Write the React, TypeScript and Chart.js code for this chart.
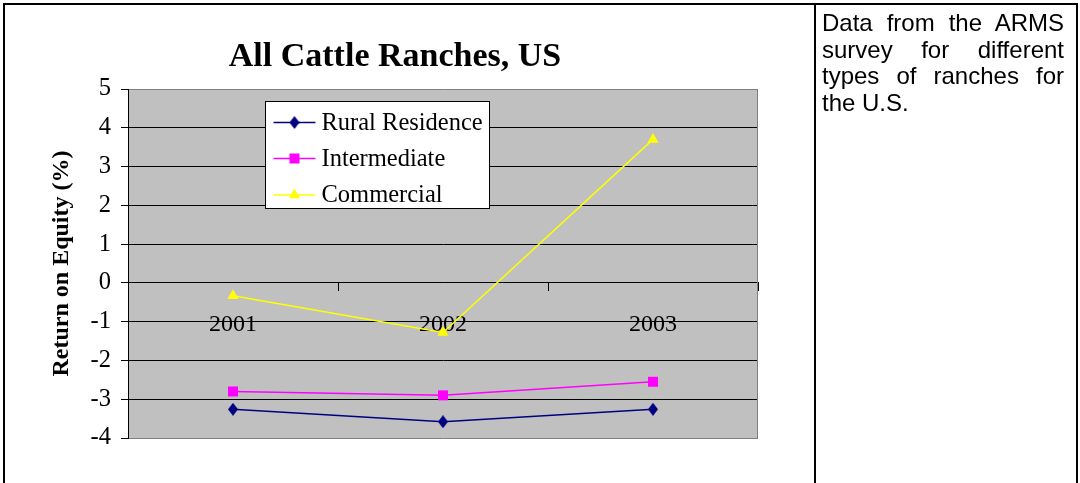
import React, { useEffect, useRef } from 'react';
import { Chart, registerables } from 'chart.js';

Chart.register(...registerables);

const chartTitle = 'All Cattle Ranches, US';
const yAxisTitle = 'Return on Equity (%)';
const years = ['2001', '2002', '2003'];
const seriesNames = ['Rural Residence', 'Intermediate', 'Commercial'];
const ruralResidence = [-3.26, -3.58, -3.26];
const intermediate = [-2.8, -2.9, -2.55];
const commercial = [-0.33, -1.28, 3.7];
const yMin = -4;
const yMax = 5;
const noteText = 'Data from the ARMS survey for different types of ranches for the U.S.';

const SERIF = '"Liberation Serif", "Times New Roman", Times, serif';
const SANS = '"Liberation Sans", Arial, Helvetica, sans-serif';
const colors = ['#000080', '#FF00FF', '#FFFF00'];

function makeDiamond(color: string, w: number, h: number) {
  const c = document.createElement('canvas');
  c.width = w;
  c.height = h;
  const g = c.getContext('2d')!;
  g.fillStyle = color;
  g.beginPath();
  g.moveTo(w / 2, 0);
  g.lineTo(w, h / 2);
  g.lineTo(w / 2, h);
  g.lineTo(0, h / 2);
  g.closePath();
  g.fill();
  return c;
}

function drawMarker(ctx: CanvasRenderingContext2D, idx: number, x: number, y: number, diamond: HTMLCanvasElement) {
  ctx.save();
  ctx.fillStyle = colors[idx];
  if (idx === 0) {
    ctx.drawImage(diamond, x - diamond.width / 2, y - diamond.height / 2);
  } else if (idx === 1) {
    ctx.fillRect(x - 5, y - 5, 10, 10);
  } else {
    const r = 6.5;
    ctx.beginPath();
    ctx.moveTo(x, y - r);
    ctx.lineTo(x + r * Math.sin((2 * Math.PI) / 3), y + r * 0.5);
    ctx.lineTo(x - r * Math.sin((2 * Math.PI) / 3), y + r * 0.5);
    ctx.closePath();
    ctx.fill();
  }
  ctx.restore();
}

export default function App() {
  const ref = useRef<HTMLCanvasElement | null>(null);

  useEffect(() => {
    if (!ref.current) return;
    const diamond = makeDiamond(colors[0], 10, 13);

    const bgPlugin = {
      id: 'plotBg',
      beforeDraw(chart: any) {
        const { ctx, chartArea: a } = chart;
        ctx.save();
        ctx.fillStyle = '#C0C0C0';
        ctx.fillRect(a.left, a.top, a.right - a.left, a.bottom - a.top);
        ctx.restore();
      },
      beforeDatasetsDraw(chart: any) {
        const { ctx, chartArea: a } = chart;
        ctx.save();
        ctx.strokeStyle = '#808080';
        ctx.lineWidth = 1;
        ctx.beginPath();
        ctx.moveTo(Math.round(a.right) - 0.5, a.top);
        ctx.lineTo(Math.round(a.right) - 0.5, a.bottom);
        ctx.stroke();
        ctx.restore();
      },
    };

    const legendPlugin = {
      id: 'boxLegend',
      afterDatasetsDraw(chart: any) {
        const { ctx, chartArea: a } = chart;
        const bx = Math.round(a.left + 137) + 0.5;
        const by = Math.round(a.top + 12) + 0.5;
        const bw = 224;
        const bh = 107;
        ctx.save();
        ctx.fillStyle = '#FFFFFF';
        ctx.fillRect(bx, by, bw, bh);
        ctx.strokeStyle = '#000000';
        ctx.lineWidth = 1;
        ctx.strokeRect(bx, by, bw, bh);
        const rows = [21, 57, 93.5];
        chart.data.datasets.forEach((ds: any, i: number) => {
          const y = by + rows[i];
          ctx.strokeStyle = ds.borderColor;
          ctx.lineWidth = 1.5;
          ctx.beginPath();
          ctx.moveTo(bx + 8, y);
          ctx.lineTo(bx + 50, y);
          ctx.stroke();
          drawMarker(ctx, i, bx + 29, y, diamond);
          ctx.fillStyle = '#000000';
          ctx.font = `24.5px ${SERIF}`;
          ctx.textBaseline = 'middle';
          ctx.textAlign = 'left';
          ctx.fillText(ds.label, bx + 56, y + 1);
        });
        ctx.restore();
      },
    };

    const chart = new Chart(ref.current, {
      type: 'line',
      data: {
        labels: years,
        datasets: [
          {
            label: seriesNames[0],
            data: ruralResidence,
            borderColor: colors[0],
            backgroundColor: colors[0],
            borderWidth: 1.5,
            pointStyle: diamond as any,
            pointRadius: 6,
            tension: 0,
          },
          {
            label: seriesNames[1],
            data: intermediate,
            borderColor: colors[1],
            backgroundColor: colors[1],
            borderWidth: 1.5,
            pointStyle: 'rect',
            pointRadius: 7.07,
            pointBorderWidth: 0,
            tension: 0,
          },
          {
            label: seriesNames[2],
            data: commercial,
            borderColor: colors[2],
            backgroundColor: colors[2],
            borderWidth: 1.5,
            pointStyle: 'triangle',
            pointRadius: 6.5,
            pointBorderWidth: 0,
            tension: 0,
          },
        ],
      },
      options: {
        responsive: false,
        animation: false,
        events: [],
        layout: { padding: { left: 32, right: 32, top: 0, bottom: 45 } },
        plugins: {
          legend: { display: false },
          tooltip: { enabled: false },
          title: {
            display: true,
            text: chartTitle,
            color: '#000000',
            font: { family: SERIF, size: 34, weight: 'bold' },
            padding: { top: 37, bottom: 11.2 },
          },
        },
        scales: {
          x: {
            type: 'category',
            position: { y: 0 } as any,
            offset: true,
            grid: {
              offset: true,
              drawOnChartArea: false,
              drawTicks: true,
              tickLength: 8,
              color: '#000000',
            },
            border: { display: true, color: '#000000', width: 1 },
            ticks: {
              color: '#000000',
              font: { family: SERIF, size: 24 },
              padding: 19,
              maxRotation: 0,
            },
          },
          y: {
            min: yMin,
            max: yMax,
            afterFit(scale: any) {
              scale.width = 96;
            },
            ticks: {
              stepSize: 1,
              color: '#000000',
              font: { family: SERIF, size: 24.5 },
              padding: 10,
            },
            grid: {
              color: (c: any) =>
                c.tick && (c.tick.value === yMax || c.tick.value === yMin) ? '#808080' : '#000000',
              tickColor: '#000000',
              tickLength: 7,
              lineWidth: 1,
            },
            border: { display: true, color: '#000000', width: 1 },
            title: {
              display: true,
              text: yAxisTitle,
              color: '#000000',
              font: { family: SERIF, size: 24, weight: 'bold' },
              padding: { top: 15.6, bottom: 0 },
            },
          },
        },
      },
      plugins: [bgPlugin, legendPlugin],
    });

    return () => chart.destroy();
  }, []);

  return (
    <div style={{ position: 'absolute', left: 0, top: 0, width: 1080, height: 483, overflow: 'hidden', background: '#fff' }}>
      <canvas ref={ref} width={790} height={483} style={{ position: 'absolute', left: 0, top: 0, width: 790, height: 483 }} />
      <div
        style={{
          position: 'absolute',
          left: 3,
          top: 3,
          width: 1071,
          height: 600,
          border: '2px solid #000',
          boxSizing: 'content-box',
        }}
      />
      <div style={{ position: 'absolute', left: 814, top: 3, width: 2, height: 600, background: '#000' }} />
      <div
        style={{
          position: 'absolute',
          left: 822,
          top: 10,
          width: 242,
          fontFamily: SANS,
          fontSize: 24,
          lineHeight: '26.5px',
          textAlign: 'justify',
          color: '#000',
        }}
      >
        {noteText}
      </div>
    </div>
  );
}
